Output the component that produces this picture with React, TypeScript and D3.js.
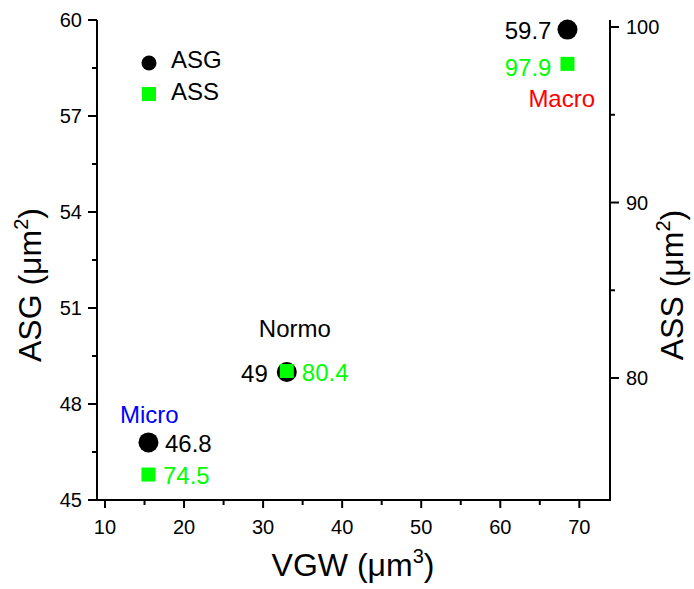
import React from "react";
import * as d3 from "d3";

const groups = ["Micro", "Normo", "Macro"];
const groupColors = ["#0000ff", "#000000", "#ff0000"];
const vgw = [15.5, 33, 68.5];
const asg = [46.8, 49, 59.7];
const ass = [74.5, 80.4, 97.9];
const asgLabels = ["46.8", "49", "59.7"];
const assLabels = ["74.5", "80.4", "97.9"];
const xTicks = [10, 20, 30, 40, 50, 60, 70];
const xMinor = [15, 25, 35, 45, 55, 65];
const yLTicks = [45, 48, 51, 54, 57, 60];
const yLMinor = [46.5, 49.5, 52.5, 55.5, 58.5];
const yRTicks = [80, 90, 100];
const yRMinor = [85, 95];

const W = 694;
const H = 589;
const L = 97, R = 610, T = 20, B = 500;
const FONT = "Arial, 'Liberation Sans', Helvetica, sans-serif";
const GREEN = "#00ff00";

export default function App() {
  const x = d3.scaleLinear().domain([8.99, 73.88]).range([L, R]);
  const yL = d3.scaleLinear().domain([45, 60]).range([B, T]);
  const yR = d3.scaleLinear().domain([73.05, 100.4]).range([B, T]);

  // label offsets (style)
  const asgOff = [
    { dx: 16.5, dy: 10, anchor: "start" },
    { dx: -19, dy: 10, anchor: "end" },
    { dx: -16, dy: 9.5, anchor: "end" },
  ];
  const assOff = [
    { dx: 14.5, dy: 9.5, anchor: "start" },
    { dx: 15, dy: 9.5, anchor: "start" },
    { dx: -16, dy: 12, anchor: "end" },
  ];
  const nameOff = [
    { dx: -28.5, dy: -19.5, anchor: "start", ref: "asg" },
    { dx: 8, dy: -35, anchor: "middle", ref: "asg" },
    { dx: 27.6, dy: 43, anchor: "end", ref: "ass" },
  ];

  return (
    <svg
      width={W}
      height={H}
      style={{ position: "absolute", left: 0, top: 0, background: "#fff" }}
      fontFamily={FONT}
    >
      <rect width={W} height={H} fill="#fff" />
      {/* axes lines */}
      <line x1={L} y1={T} x2={L} y2={B + 1} stroke="#000" strokeWidth={2} />
      <line x1={R} y1={T} x2={R} y2={B + 1} stroke="#000" strokeWidth={2} />
      <line x1={L - 1} y1={B} x2={R + 1} y2={B} stroke="#000" strokeWidth={2} />

      {/* x ticks */}
      {xTicks.map((t) => (
        <g key={"xt" + t}>
          <line x1={x(t)} x2={x(t)} y1={B} y2={B + 8} stroke="#000" strokeWidth={2} />
          <text x={x(t)} y={534} fontSize={20} textAnchor="middle" fill="#000">
            {t}
          </text>
        </g>
      ))}
      {xMinor.map((t) => (
        <line key={"xm" + t} x1={x(t)} x2={x(t)} y1={B} y2={B + 5} stroke="#000" strokeWidth={2} />
      ))}

      {/* left y ticks */}
      {yLTicks.map((t) => (
        <g key={"yl" + t}>
          <line x1={L - 9} x2={L} y1={yL(t)} y2={yL(t)} stroke="#000" strokeWidth={2} />
          <text x={82} y={yL(t) + 7} fontSize={20} textAnchor="end" fill="#000">
            {t}
          </text>
        </g>
      ))}
      {yLMinor.map((t) => (
        <line key={"ylm" + t} x1={L - 5} x2={L} y1={yL(t)} y2={yL(t)} stroke="#000" strokeWidth={2} />
      ))}

      {/* right y ticks */}
      {yRTicks.map((t) => (
        <g key={"yr" + t}>
          <line x1={R} x2={R + 9} y1={yR(t)} y2={yR(t)} stroke="#000" strokeWidth={2} />
          <text x={626} y={yR(t) + 7} fontSize={20} textAnchor="start" fill="#000">
            {t}
          </text>
        </g>
      ))}
      {yRMinor.map((t) => (
        <line key={"yrm" + t} x1={R} x2={R + 5} y1={yR(t)} y2={yR(t)} stroke="#000" strokeWidth={2} />
      ))}

      {/* axis titles */}
      <text x={353} y={576} fontSize={32} textAnchor="middle" fill="#000">
        VGW (μm<tspan fontSize={20} dy={-13}>3</tspan>
        <tspan dy={13}>)</tspan>
      </text>
      <text
        transform={`translate(41,285) rotate(-90)`}
        fontSize={32}
        textAnchor="middle"
        fill="#000"
      >
        ASG (μm<tspan fontSize={20} dy={-13}>2</tspan>
        <tspan dy={13}>)</tspan>
      </text>
      <text
        transform={`translate(683,285) rotate(-90)`}
        fontSize={32}
        textAnchor="middle"
        fill="#000"
      >
        ASS (μm<tspan fontSize={20} dy={-13}>2</tspan>
        <tspan dy={13}>)</tspan>
      </text>

      {/* data points */}
      {groups.map((g, i) => (
        <g key={g}>
          <circle cx={x(vgw[i])} cy={yL(asg[i])} r={10} fill="#000" />
          <rect x={x(vgw[i]) - 7} y={yR(ass[i]) - 7} width={14} height={14} fill={GREEN} />
          <text
            x={x(vgw[i]) + asgOff[i].dx}
            y={yL(asg[i]) + asgOff[i].dy}
            fontSize={24}
            textAnchor={asgOff[i].anchor}
            fill="#000"
          >
            {asgLabels[i]}
          </text>
          <text
            x={x(vgw[i]) + assOff[i].dx}
            y={yR(ass[i]) + assOff[i].dy}
            fontSize={24}
            textAnchor={assOff[i].anchor}
            fill={GREEN}
          >
            {assLabels[i]}
          </text>
          <text
            x={x(vgw[i]) + nameOff[i].dx}
            y={(nameOff[i].ref === "asg" ? yL(asg[i]) : yR(ass[i])) + nameOff[i].dy}
            fontSize={24}
            textAnchor={nameOff[i].anchor}
            fill={groupColors[i]}
          >
            {g}
          </text>
        </g>
      ))}

      {/* legend */}
      <circle cx={149} cy={63} r={7.5} fill="#000" />
      <text x={171} y={68} fontSize={24} fill="#000">ASG</text>
      <rect x={142} y={87} width={14} height={14} fill={GREEN} />
      <text x={171} y={100} fontSize={24} fill="#000">ASS</text>
    </svg>
  );
}
